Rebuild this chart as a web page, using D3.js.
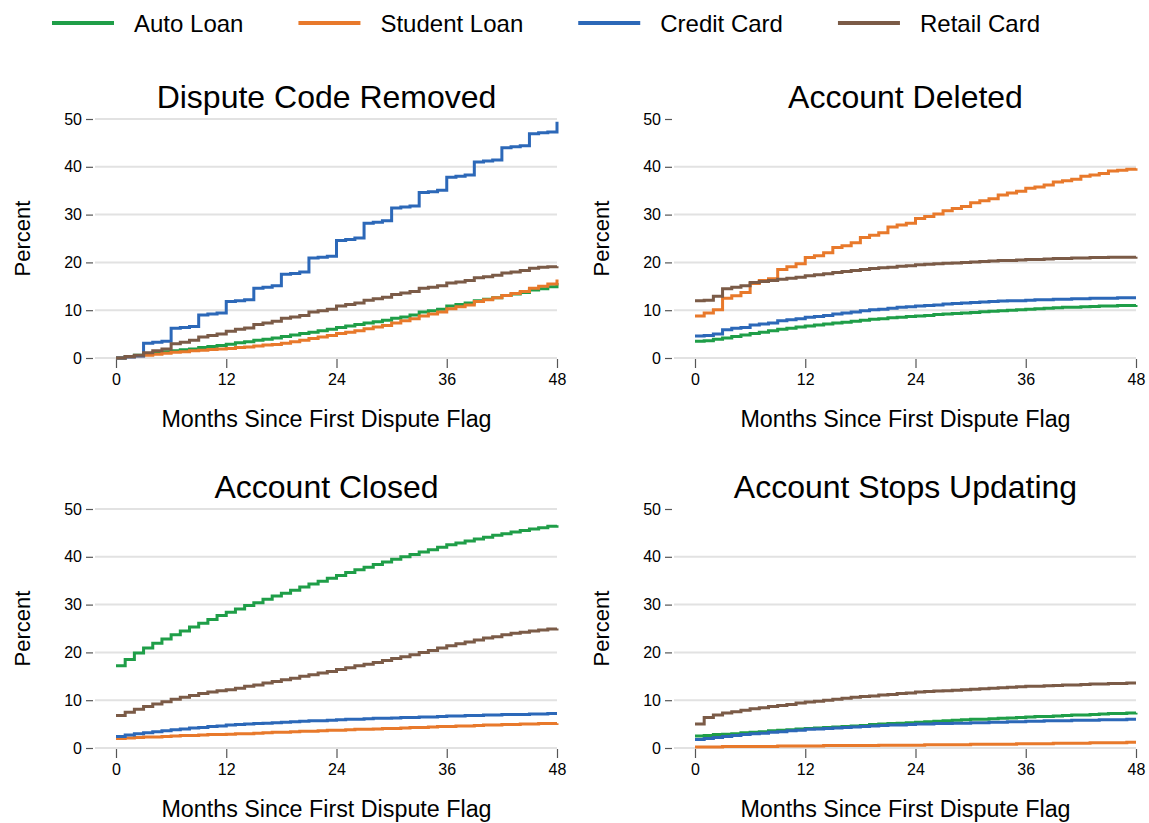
<!DOCTYPE html>
<html>
<head>
<meta charset="utf-8">
<script src="https://cdn.jsdelivr.net/npm/d3@7"></script>
<style>
body { margin: 0; background: #fff; }
text { font-family: "Liberation Sans", Arial, sans-serif; fill: #000; }
</style>
</head>
<body>
<div id="chart"></div>
<script>
//Categories
const months = d3.range(0, 49);
const seriesNames = ["Auto Loan", "Student Loan", "Credit Card", "Retail Card"];
const seriesColors = ["#1f9e48", "#e8792b", "#2c68b8", "#7b5b47"];
const yTicks = [0, 10, 20, 30, 40, 50];
const xTicks = [0, 12, 24, 36, 48];

//Dispute Code Removed
const removedAuto = [0,0.3,0.6,0.9,1.1,1.3,1.5,1.7,1.9,2.2,2.4,2.6,2.9,3.2,3.4,3.7,3.9,4.2,4.5,4.8,5.1,5.4,5.7,6.0,6.4,6.7,7.0,7.3,7.6,7.9,8.3,8.6,9.0,9.6,9.9,10.2,10.9,11.2,11.5,12.0,12.3,12.6,13.1,13.4,13.7,14.2,14.5,14.9,15.7];
const removedStudent = [0,0.2,0.4,0.6,0.8,1.0,1.2,1.3,1.5,1.6,1.8,1.9,2.0,2.2,2.3,2.5,2.7,2.8,3.1,3.4,3.7,4.1,4.4,4.7,5.1,5.4,5.7,6.1,6.5,6.8,7.3,7.8,8.2,8.8,9.2,9.6,10.3,10.7,11.1,11.8,12.2,12.6,13.1,13.5,13.9,14.6,15.0,15.5,16.4];
const removedCredit = [0,0.2,0.4,3.1,3.3,3.5,6.2,6.4,6.6,9.0,9.2,9.4,11.8,12.0,12.2,14.6,14.8,15.1,17.5,17.7,18.0,20.9,21.1,21.3,24.6,24.8,25.1,28.2,28.4,28.7,31.4,31.6,31.8,34.6,34.8,35.1,37.8,38.0,38.3,41.0,41.2,41.4,44.0,44.2,44.4,46.9,47.1,47.3,49.4];
const removedRetail = [0,0.3,0.6,1.1,1.5,1.9,3.0,3.3,3.7,4.4,4.7,5.0,5.6,6.0,6.3,7.0,7.3,7.7,8.3,8.6,8.9,9.6,9.9,10.2,10.9,11.2,11.5,12.1,12.4,12.7,13.3,13.6,13.9,14.6,14.8,15.1,15.7,15.9,16.2,16.8,17.0,17.3,17.8,18.0,18.3,18.8,19.0,19.1,19.2];

//Account Deleted
const deletedAuto = [3.5,3.6,3.9,4.2,4.5,4.8,5.1,5.4,5.7,6.0,6.2,6.5,6.7,6.9,7.1,7.3,7.5,7.7,7.9,8.1,8.2,8.4,8.5,8.7,8.8,8.9,9.1,9.2,9.3,9.4,9.5,9.7,9.8,9.9,10.0,10.1,10.2,10.3,10.4,10.5,10.6,10.6,10.7,10.8,10.9,10.9,11.0,11.0,11.1];
const deletedStudent = [8.8,9.4,10.1,12.5,13.0,13.7,15.6,16.2,16.6,18.5,19.1,19.7,21.0,21.4,22.0,23.1,23.5,24.1,25.2,25.7,26.2,27.4,27.8,28.2,29.2,29.6,30.1,30.8,31.3,31.7,32.5,32.9,33.3,34.1,34.5,34.9,35.5,35.8,36.2,36.8,37.1,37.4,38.0,38.3,38.6,39.1,39.3,39.5,39.7];
const deletedCredit = [4.6,4.7,5.0,5.9,6.2,6.4,6.9,7.1,7.3,7.8,8.0,8.2,8.5,8.7,8.9,9.2,9.4,9.6,9.9,10.1,10.2,10.4,10.6,10.7,10.9,11.0,11.1,11.3,11.4,11.5,11.6,11.7,11.8,11.9,12.0,12.0,12.1,12.2,12.2,12.3,12.3,12.4,12.4,12.5,12.5,12.5,12.6,12.6,12.6];
const deletedRetail = [12.0,12.1,12.9,14.5,14.8,15.1,15.8,16.0,16.2,16.5,16.7,16.9,17.2,17.4,17.6,17.9,18.1,18.3,18.5,18.7,18.9,19.0,19.2,19.3,19.5,19.6,19.7,19.8,19.9,20.0,20.1,20.2,20.3,20.4,20.4,20.5,20.6,20.6,20.7,20.8,20.8,20.9,20.9,21.0,21.0,21.1,21.1,21.1,21.2];

//Account Closed
const closedAuto = [17.2,18.5,19.9,20.9,21.9,22.8,23.7,24.5,25.3,26.1,26.9,27.7,28.4,29.1,29.8,30.4,31.1,31.8,32.4,33.0,33.7,34.3,34.9,35.5,36.1,36.7,37.3,37.8,38.4,38.9,39.5,40.0,40.5,41.0,41.5,42.0,42.5,42.9,43.3,43.7,44.1,44.5,44.8,45.2,45.5,45.8,46.1,46.4,46.6];
const closedStudent = [2.0,2.1,2.2,2.3,2.3,2.4,2.5,2.6,2.6,2.7,2.8,2.8,2.9,3.0,3.0,3.1,3.2,3.3,3.3,3.4,3.5,3.5,3.6,3.7,3.7,3.8,3.9,3.9,4.0,4.1,4.1,4.2,4.3,4.3,4.4,4.5,4.5,4.6,4.6,4.7,4.8,4.8,4.9,4.9,5.0,5.0,5.1,5.1,5.2];
const closedCredit = [2.4,2.7,3.0,3.2,3.4,3.6,3.8,4.0,4.2,4.3,4.5,4.6,4.8,4.9,5.0,5.1,5.2,5.3,5.4,5.5,5.6,5.7,5.7,5.8,5.9,6.0,6.0,6.1,6.2,6.2,6.3,6.4,6.4,6.5,6.5,6.6,6.7,6.7,6.8,6.8,6.9,6.9,7.0,7.0,7.0,7.1,7.1,7.2,7.2];
const closedRetail = [6.8,7.5,8.1,8.7,9.2,9.7,10.2,10.6,11.0,11.4,11.7,12.0,12.2,12.5,12.9,13.2,13.6,13.9,14.3,14.6,15.0,15.3,15.7,16.0,16.4,16.8,17.2,17.5,17.9,18.3,18.7,19.1,19.5,20.0,20.4,20.9,21.4,21.8,22.2,22.6,23.0,23.3,23.7,24.0,24.2,24.5,24.7,24.9,25.0];

//Account Stops Updating
const stopsAuto = [2.5,2.6,2.8,2.9,3.0,3.2,3.3,3.4,3.6,3.7,3.8,4.0,4.1,4.2,4.3,4.4,4.5,4.6,4.7,4.9,5.0,5.1,5.2,5.3,5.4,5.5,5.6,5.7,5.8,5.9,6.0,6.0,6.1,6.2,6.3,6.4,6.5,6.6,6.6,6.7,6.8,6.9,6.9,7.0,7.1,7.2,7.2,7.3,7.4];
const stopsStudent = [0.2,0.2,0.2,0.3,0.3,0.3,0.3,0.3,0.3,0.4,0.4,0.4,0.4,0.4,0.5,0.5,0.5,0.5,0.5,0.5,0.6,0.6,0.6,0.6,0.6,0.7,0.7,0.7,0.7,0.7,0.8,0.8,0.8,0.8,0.8,0.9,0.9,0.9,0.9,1.0,1.0,1.0,1.0,1.1,1.1,1.1,1.1,1.2,1.2];
const stopsCredit = [1.8,2.0,2.2,2.4,2.6,2.8,3.0,3.1,3.3,3.4,3.6,3.7,3.9,4.0,4.1,4.2,4.3,4.4,4.5,4.6,4.7,4.8,4.8,4.9,5.0,5.0,5.1,5.1,5.2,5.2,5.3,5.3,5.4,5.4,5.5,5.5,5.6,5.6,5.7,5.7,5.7,5.8,5.8,5.8,5.9,5.9,5.9,6.0,6.0];
const stopsRetail = [5.0,6.4,6.9,7.3,7.6,7.9,8.2,8.4,8.7,8.9,9.1,9.4,9.6,9.8,10.0,10.2,10.4,10.6,10.8,10.9,11.1,11.2,11.4,11.5,11.7,11.8,11.9,12.0,12.1,12.2,12.3,12.4,12.5,12.6,12.7,12.8,12.9,12.9,13.0,13.1,13.2,13.2,13.3,13.4,13.4,13.5,13.5,13.6,13.6];

//Layout
let width = 1149, height = 823,
    plotW = 441, plotH = 239;

let panels = [
  {title: "Dispute Code Removed", left: 116, top: 119, topGrid: true, series: [removedAuto, removedStudent, removedCredit, removedRetail]},
  {title: "Account Deleted", left: 695, top: 119, topGrid: false, series: [deletedAuto, deletedStudent, deletedCredit, deletedRetail]},
  {title: "Account Closed", left: 116, top: 509, topGrid: true, series: [closedAuto, closedStudent, closedCredit, closedRetail]},
  {title: "Account Stops Updating", left: 695, top: 509, topGrid: false, series: [stopsAuto, stopsStudent, stopsCredit, stopsRetail]}
];

let svg = d3.select("#chart").append("svg")
  .attr("width", width)
  .attr("height", height);

let x = d3.scaleLinear().domain([0, 48]).range([0, plotW]);
let y = d3.scaleLinear().domain([0, 50]).range([plotH, 0]);

let line = d3.line()
  .x((d, i) => x(months[i]))
  .y(d => y(d))
  .curve(d3.curveStepAfter);

panels.forEach(p => {
  let g = svg.append("g").attr("transform", "translate(" + p.left + "," + p.top + ")");

  //Gridlines
  g.selectAll(".grid")
    .data(yTicks.filter(t => p.topGrid || t < 50))
    .enter().append("line")
      .attr("x1", -21).attr("x2", plotW)
      .attr("y1", d => y(d)).attr("y2", d => y(d))
      .attr("stroke", "#e2e2e2")
      .attr("stroke-width", 2);

  //Y axis
  let yAxis = g.append("g")
    .attr("transform", "translate(-23,0)")
    .call(d3.axisLeft(y).tickValues(yTicks).tickSize(7).tickPadding(4).tickSizeOuter(0));
  yAxis.select(".domain").remove();
  yAxis.selectAll("line").attr("stroke", "#555").attr("stroke-width", 1.2);
  yAxis.selectAll("text").attr("font-size", 16).attr("fill", "#000")
    .style("font-family", "'Liberation Sans', Arial, sans-serif");

  //X axis
  let xAxis = g.append("g")
    .attr("transform", "translate(0," + (plotH + 1) + ")")
    .call(d3.axisBottom(x).tickValues(xTicks).tickSize(9).tickPadding(6).tickSizeOuter(0));
  xAxis.select(".domain").remove();
  xAxis.selectAll("line").attr("stroke", "#555").attr("stroke-width", 1.2);
  xAxis.selectAll("text").attr("font-size", 16).attr("fill", "#000")
    .style("font-family", "'Liberation Sans', Arial, sans-serif");

  //Series
  p.series.forEach((s, i) => {
    g.append("path")
      .datum(s)
      .attr("fill", "none")
      .attr("stroke", seriesColors[i])
      .attr("stroke-width", 3)
      .attr("d", line);
  });

  //Titles
  g.append("text")
    .attr("x", plotW / 2 - 10).attr("y", -11)
    .attr("text-anchor", "middle")
    .attr("font-size", 32)
    .text(p.title);

  g.append("text")
    .attr("x", plotW / 2 - 10).attr("y", plotH + 69)
    .attr("text-anchor", "middle")
    .attr("font-size", 23.3)
    .text("Months Since First Dispute Flag");

  g.append("text")
    .attr("transform", "translate(-86," + (plotH / 2) + ") rotate(-90)")
    .attr("text-anchor", "middle")
    .attr("font-size", 22)
    .text("Percent");
});

//Legend
let legend = svg.append("g").attr("transform", "translate(52,23)");
let lx = 0;
seriesNames.forEach((name, i) => {
  legend.append("line")
    .attr("x1", lx).attr("x2", lx + 62)
    .attr("y1", 0).attr("y2", 0)
    .attr("stroke", seriesColors[i])
    .attr("stroke-width", 4);
  let t = legend.append("text")
    .attr("x", lx + 82).attr("y", 8.5)
    .attr("font-size", 24)
    .text(name);
  lx += 82 + t.node().getComputedTextLength() + 55;
});
</script>
</body>
</html>
